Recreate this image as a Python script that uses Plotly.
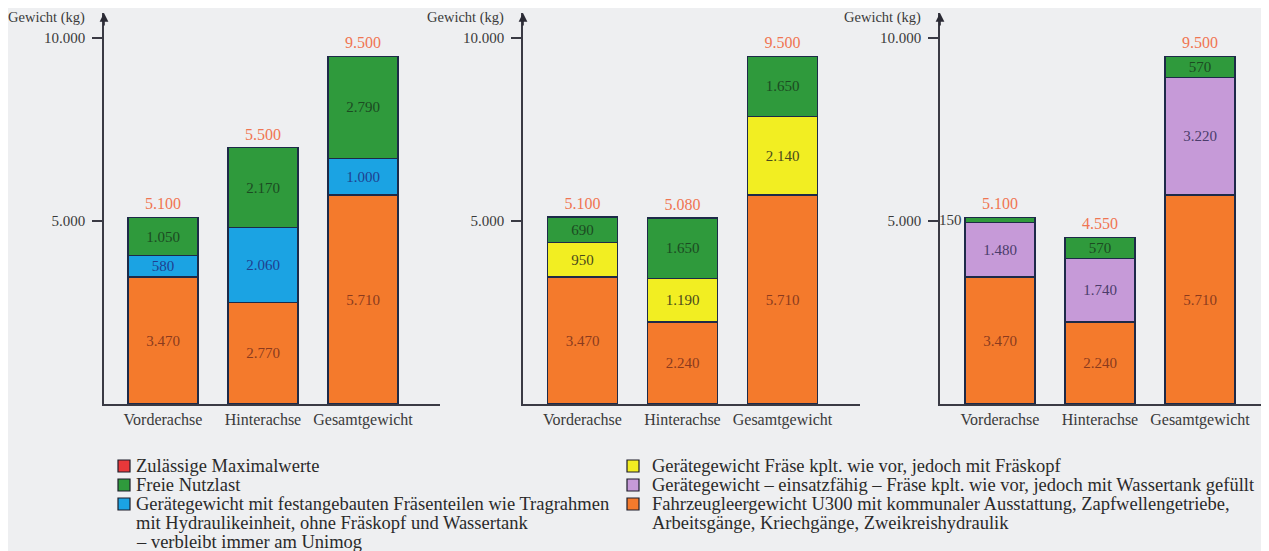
import plotly.graph_objects as go

# The page body has an 8 px margin; the figure is offset by that amount.
OFF = 8
W, H = 1261, 543

categories = ["Vorderachse", "Hinterachse", "Gesamtgewicht"]

# Chart 1: Geräteteile fest angebaut
c1_leer = [3470, 2770, 5710]
c1_geraet = [580, 2060, 1000]
c1_nutzlast = [1050, 2170, 2790]
c1_max = [5100, 5500, 9500]

# Chart 2: mit Fräskopf
c2_leer = [3470, 2240, 5710]
c2_geraet = [950, 1190, 2140]
c2_nutzlast = [690, 1650, 1650]
c2_max = [5100, 5080, 9500]

# Chart 3: einsatzfähig mit Wassertank
c3_leer = [3470, 2240, 5710]
c3_geraet = [1480, 1740, 3220]
c3_nutzlast = [150, 570, 570]
c3_max = [5100, 4550, 9500]

y_ticks = [5000, 10000]

legend_left = [
    ("#e8383a", ["Zulässige Maximalwerte"]),
    ("#2f9a3c", ["Freie Nutzlast"]),
    ("#1ba3e3", ["Gerätegewicht mit festangebauten Fräsenteilen wie Tragrahmen",
                 "mit Hydraulikeinheit, ohne Fräskopf und Wassertank",
                 "– verbleibt immer am Unimog"]),
]
legend_right = [
    ("#f2ee22", ["Gerätegewicht Fräse kplt. wie vor, jedoch mit Fräskopf"]),
    ("#c69ad8", ["Gerätegewicht – einsatzfähig – Fräse kplt. wie vor, jedoch mit Wassertank gefüllt"]),
    ("#f47a2c", ["Fahrzeugleergewicht U300 mit kommunaler Ausstattung, Zapfwellengetriebe,",
                 "Arbeitsgänge, Kriechgänge, Zweikreishydraulik"]),
]

FONT = "Liberation Serif"
ORANGE, GREEN, BLUE, YELLOW, PURPLE = "#f47a2c", "#2f9a3c", "#1ba3e3", "#f2ee22", "#c69ad8"
EDGE = "#1d2a48"
BG = "#eeeff1"

def px(x):
    return (x - OFF) / W

def py(y):
    return 1 - (y - OFF) / H

def fmt(v):
    return f"{v:,}".replace(",", ".")

fig = go.Figure()

charts = [
    (c1_leer, c1_geraet, BLUE, "#1f3f8f", c1_nutzlast, c1_max, 104, 440, [-0.59, 2.77]),
    (c2_leer, c2_geraet, YELLOW, "#4a4a1c", c2_nutzlast, c2_max, 523, 860, [-0.595, 2.775]),
    (c3_leer, c3_geraet, PURPLE, "#4b3c6b", c3_nutzlast, c3_max, 940, 1269, [-0.6, 2.69]),
]

y_base_px, y_top_px = 404, 13
yrange = [0, (y_base_px - y_top_px) / 183 * 5000]

layout_axes = {}
annotations = []
shapes = []

for i, (leer, geraet, gcol, gtxt, nutz, mx, x0, x1, xr) in enumerate(charts, start=1):
    xa = "x" if i == 1 else f"x{i}"
    ya = "y" if i == 1 else f"y{i}"
    nutz_text = [fmt(v) for v in nutz]
    if i == 3:
        nutz_text[0] = ""
    for vals, col, tcol, txt in [
        (leer, ORANGE, "#8a3a1e", [fmt(v) for v in leer]),
        (geraet, gcol, gtxt, [fmt(v) for v in geraet]),
        (nutz, GREEN, "#1c4a22", nutz_text),
    ]:
        fig.add_trace(go.Bar(
            x=categories, y=vals, xaxis=xa, yaxis=ya,
            marker=dict(color=col, line=dict(color=EDGE, width=1.2)),
            text=txt, textposition="inside", insidetextanchor="middle", textangle=0,
            textfont=dict(family=FONT, size=15, color=tcol),
            width=0.7, showlegend=False, hoverinfo="skip",
        ))
    totals = [a + b + c for a, b, c in zip(leer, geraet, nutz)]
    fig.add_trace(go.Scatter(
        x=categories, y=totals, xaxis=xa, yaxis=ya, mode="markers+text",
        marker=dict(size=5, color="rgba(0,0,0,0)"),
        text=[fmt(v) for v in mx],
        textposition="top center",
        textfont=dict(family=FONT, size=16, color="#f07552"),
        cliponaxis=False, showlegend=False, hoverinfo="skip",
    ))
    xkey = "xaxis" if i == 1 else f"xaxis{i}"
    ykey = "yaxis" if i == 1 else f"yaxis{i}"
    layout_axes[xkey] = dict(
        domain=[px(x0), min(px(x1), 1.0)], anchor=ya, type="category", range=xr,
        showline=True, linecolor="#3a3a44", linewidth=1.6, ticks="",
        showgrid=False, zeroline=False, fixedrange=True,
        tickfont=dict(family=FONT, size=16, color="#3a3a3a"),
    )
    layout_axes[ykey] = dict(
        domain=[py(y_base_px), py(y_top_px)], anchor=xa, range=yrange,
        showline=True, linecolor="#3a3a44", linewidth=1.6,
        ticks="outside", ticklen=10, tickwidth=1.6, tickcolor="#3a3a44",
        tickvals=y_ticks, tickformat=",d", showgrid=False, zeroline=False,
        ticklabelstandoff=4,
        tickfont=dict(family=FONT, size=15, color="#3a3a3a"), fixedrange=True,
    )
    # axis arrow
    annotations.append(dict(
        xref=f"{xa} domain", yref=f"{ya} domain", x=0, y=1, text="",
        showarrow=True, arrowhead=2, arrowsize=1.1, arrowwidth=1.6,
        arrowcolor="#2a2a34", ax=0, ay=14,
    ))
    # axis title
    annotations.append(dict(
        xref=f"{xa} domain", yref="paper", x=0, y=py(18), xshift=-17,
        xanchor="right", yanchor="middle", text="Gewicht (kg)", showarrow=False,
        font=dict(family=FONT, size=14.5, color="#3a3a3a"),
    ))
    if i == 3:
        annotations.append(dict(
            xref=xa, yref=ya, x=categories[0], y=leer[0] + geraet[0] + nutz[0] / 2,
            xshift=-36, xanchor="right", yanchor="middle",
            text=fmt(nutz[0]), showarrow=False,
            font=dict(family=FONT, size=15, color="#3a3a3a"),
        ))

# legend
def add_legend(items, sx, tx, y_start):
    y = y_start
    for col, lines in items:
        shapes.append(dict(
            type="rect", xref="paper", yref="paper",
            x0=px(sx), x1=px(sx + 12), y0=py(y + 6), y1=py(y - 6),
            fillcolor=col, line=dict(color="#1d1d2a", width=1.2),
        ))
        for ln in lines:
            annotations.append(dict(
                xref="paper", yref="paper", x=px(tx), y=py(y),
                xanchor="left", yanchor="middle", text=ln, showarrow=False,
                font=dict(family=FONT, size=18.5, color="#2a2a2a"),
            ))
            y += 19

add_legend(legend_left, 118, 134, 466)
add_legend(legend_right, 627, 650, 466)

fig.update_layout(
    width=W, height=H, margin=dict(l=0, r=0, t=0, b=0),
    paper_bgcolor=BG, plot_bgcolor=BG,
    barmode="stack", separators=",.",
    uniformtext=dict(mode="show", minsize=15),
    annotations=annotations, shapes=shapes,
    showlegend=False,
    **layout_axes,
)

fig.write_html("out.html")
